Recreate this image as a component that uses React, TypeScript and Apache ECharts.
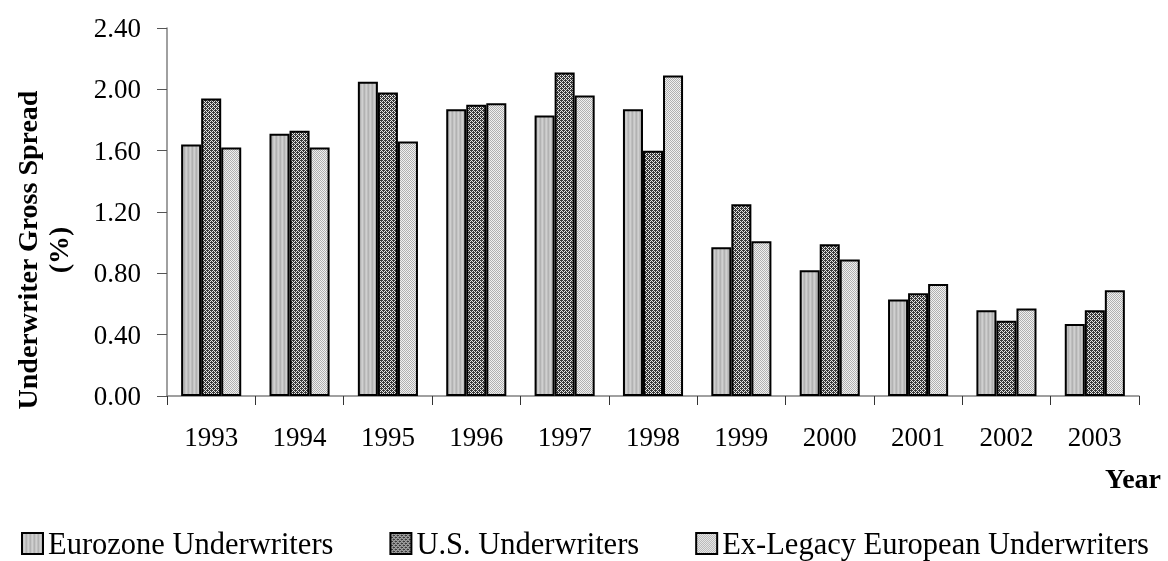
import React, { useEffect, useRef } from "react";
import * as echarts from "echarts";

const years = ["1993", "1994", "1995", "1996", "1997", "1998", "1999", "2000", "2001", "2002", "2003"];
const eurozone = [1.64, 1.71, 2.05, 1.87, 1.83, 1.87, 0.97, 0.82, 0.63, 0.56, 0.47];
const usUnderwriters = [1.94, 1.73, 1.98, 1.90, 2.11, 1.60, 1.25, 0.99, 0.67, 0.49, 0.56];
const exLegacy = [1.62, 1.62, 1.66, 1.91, 1.96, 2.09, 1.01, 0.89, 0.73, 0.57, 0.69];
const yTicks = { min: 0, max: 2.4, interval: 0.4 };
const yTitle = "Underwriter Gross Spread\n(%)";
const xTitle = "Year";

function makePattern(w: number, h: number, draw: (ctx: CanvasRenderingContext2D) => void) {
  const c = document.createElement("canvas");
  c.width = w;
  c.height = h;
  const ctx = c.getContext("2d")!;
  draw(ctx);
  return { image: c, repeat: "repeat" as const };
}

export default function App() {
  const ref = useRef<HTMLDivElement>(null);
  useEffect(() => {
    if (!ref.current) return;
    const chart = echarts.init(ref.current, undefined, { renderer: "svg" });
    const euroFill = makePattern(4, 1, (ctx) => {
      const cols = ["#b2b2b2", "#c6c6c6", "#d0d0d0", "#bebebe"];
      cols.forEach((c, i) => { ctx.fillStyle = c; ctx.fillRect(i, 0, 1, 1); });
    });
    const usFill = makePattern(4, 4, (ctx) => {
      ctx.fillStyle = "#e6e6e6";
      ctx.fillRect(0, 0, 4, 4);
      ctx.fillStyle = "#3a3a3a";
      for (let y = 0; y < 4; y++) for (let x = 0; x < 4; x++) if ((x + y) % 2 === 0) ctx.fillRect(x, y, 1, 1);
      ctx.fillRect(1, 0, 1, 1);
      ctx.fillRect(3, 2, 1, 1);
    });
    const exFill = makePattern(2, 2, (ctx) => {
      ctx.fillStyle = "#f0f0f0";
      ctx.fillRect(0, 0, 2, 2);
      ctx.fillStyle = "#b0b0b0";
      ctx.fillRect(0, 0, 1, 1);
      ctx.fillRect(1, 1, 1, 1);
    });
    const font = "Liberation Serif";
    const mk = (name: string, data: number[], fill: any) => ({
      name,
      type: "bar",
      data,
      barGap: "0%",
      barCategoryGap: "32%",
      itemStyle: { color: fill, borderColor: "#000", borderWidth: 2 },
    });
    chart.setOption({
      animation: false,
      textStyle: { fontFamily: font },
      grid: { left: 167, right: 29, top: 28, bottom: 165 },
      legend: {
        left: 21,
        top: 528,
        padding: 0,
        itemWidth: 21,
        itemHeight: 21,
        itemGap: 56,
        icon: "rect",
        textStyle: { fontFamily: font, fontSize: 30.5, lineHeight: 31, color: "#000" },
        itemStyle: { borderColor: "#000", borderWidth: 2 },
      },
      graphic: [
        {
          type: "text",
          x: 43,
          y: 250,
          rotation: Math.PI / 2,
          style: {
            text: yTitle,
            fontFamily: font,
            fontSize: 28,
            fontWeight: "bold",
            lineHeight: 31,
            fill: "#000",
            textAlign: "center",
            textVerticalAlign: "middle",
          },
        },
        {
          type: "text",
          x: 1161,
          y: 478,
          style: {
            text: xTitle,
            fontFamily: font,
            fontSize: 28,
            fontWeight: "bold",
            fill: "#000",
            textAlign: "right",
            textVerticalAlign: "middle",
          },
        },
      ],
      xAxis: {
        type: "category",
        data: years,
        axisLine: { lineStyle: { color: "#808080", width: 1.5 } },
        axisTick: { show: true, length: 9, lineStyle: { color: "#333" } },
        axisLabel: { fontFamily: font, fontSize: 27, color: "#000", margin: 27 },
      },
      yAxis: {
        type: "value",
        min: yTicks.min,
        max: yTicks.max,
        interval: yTicks.interval,
        splitLine: { show: false },
        axisLine: { show: true, lineStyle: { color: "#808080", width: 1.5 } },
        axisTick: { show: true, length: 10, lineStyle: { color: "#555" } },
        axisLabel: { fontFamily: font, fontSize: 27, color: "#000", margin: 26, formatter: (v: number) => v.toFixed(2) },
      },
      series: [
        mk("Eurozone Underwriters", eurozone, euroFill),
        mk("U.S. Underwriters", usUnderwriters, usFill),
        mk("Ex-Legacy European Underwriters", exLegacy, exFill),
      ],
    });
    return () => chart.dispose();
  }, []);
  return <div ref={ref} style={{ position: "fixed", left: 0, top: 0, width: 1168, height: 561 }} />;
}
